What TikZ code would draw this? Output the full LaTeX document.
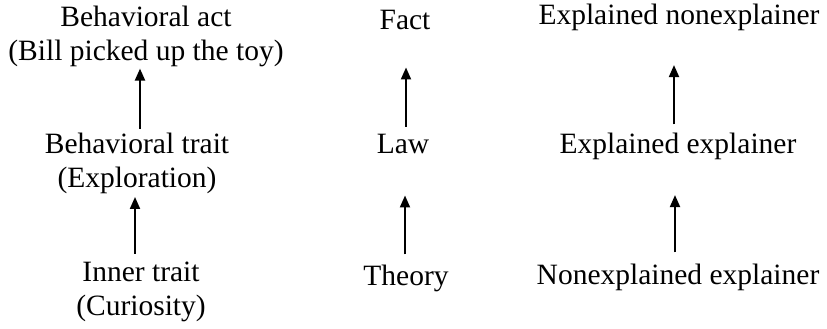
\documentclass[tikz,border=0pt]{standalone}
\usepackage{fontspec}
\setmainfont{Liberation Serif}
\usetikzlibrary{arrows.meta}
\begin{document}
\begin{tikzpicture}[x=1pt,y=-1pt,
  lbl/.style={inner sep=0pt,anchor=base,align=center,font=\fontsize{29.5}{33.5}\selectfont},
  arr/.style={line width=2pt,-{Triangle[length=12pt,width=10pt]}}]
\useasboundingbox (0,0) rectangle (827,329);
% column 1
\node[lbl] (act) at (146,60) {Behavioral act\\(Bill picked up the toy)};
\node[lbl] (trait) at (137,187) {Behavioral trait\\(Exploration)};
\node[lbl] (inner) at (141,315) {Inner trait\\(Curiosity)};
% column 2
\node[lbl] (fact) at (405,30) {Fact};
\node[lbl] (law) at (403,153) {Law};
\node[lbl] (theory) at (406,285) {Theory};
% column 3
\node[lbl] (enx) at (679,25) {Explained nonexplainer};
\node[lbl] (eex) at (678,153) {Explained explainer};
\node[lbl] (nex) at (678,284) {Nonexplained explainer};
% arrows
\draw[arr,shorten <=4pt,shorten >=2pt] (trait.north -| 140,0) -- (act.south -| 140,0);
\draw[arr,shorten <=8pt,shorten >=3.5pt] (inner.north -| 135,0) -- (trait.south -| 135,0);
\draw[arr,shorten <=6.5pt,shorten >=37pt] (law.north -| 406,0) -- (fact.south -| 406,0);
\draw[arr,shorten <=10pt,shorten >=42pt] (theory.north -| 405,0) -- (law.south -| 405,0);
\draw[arr,shorten <=8pt,shorten >=33.6pt] (eex.north -| 674,0) -- (enx.south -| 674,0);
\draw[arr,shorten <=11pt,shorten >=35.6pt] (nex.north -| 675,0) -- (eex.south -| 675,0);
\end{tikzpicture}
\end{document}
